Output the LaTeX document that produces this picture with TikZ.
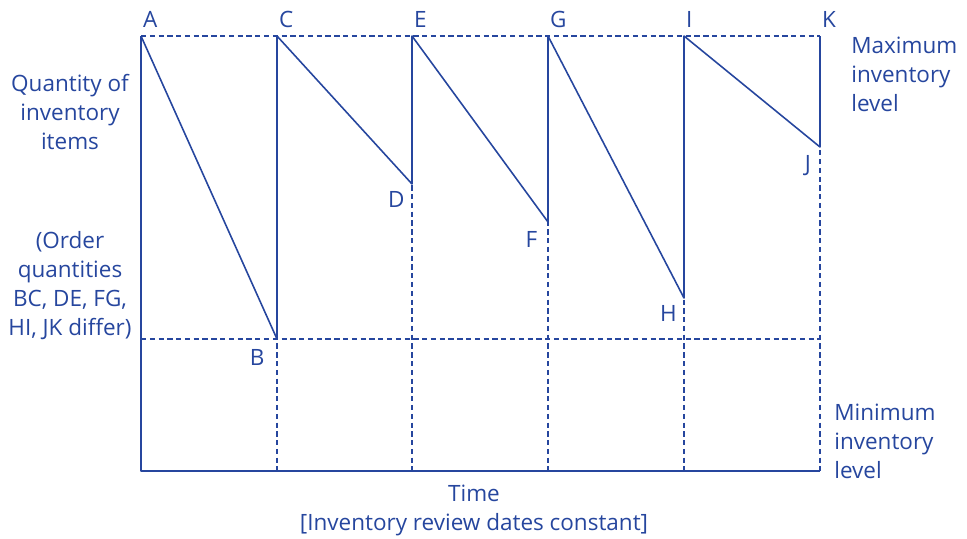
\documentclass[tikz,border=0pt]{standalone}
\usepackage{fontspec}
\setmainfont{Open Sans}
\usetikzlibrary{positioning}
\definecolor{inkblue}{RGB}{38,70,158}

\begin{document}
\begin{tikzpicture}[
  x=0.02cm, y=-0.02cm,
  stock/.style={inkblue, line width=0.9pt, line join=round},
  guide/.style={inkblue, dash pattern=on 3pt off 2pt, line width=0.8pt},
  lbl/.style={inkblue, font=\fontsize{12.8}{16.5}\selectfont, inner sep=0pt},
  side/.style={lbl, align=center},
]
  \useasboundingbox (0,0) rectangle (967,538);
  \def\ytop{36}
  \def\ymin{339}
  \def\ybot{471}
  % Review dates along the top (max level) and the bottom axis
  \coordinate (A) at (141,\ytop);
  \coordinate (O) at (141,\ybot);
  \coordinate (M0) at (141,\ymin);
  \foreach \n/\x in {C/277,E/412,G/548,I/684,K/820} {
    \coordinate (\n) at (\x,\ytop);
    \coordinate (b\n) at (\x,\ybot);
  }
  \coordinate (M1) at (820,\ymin);
  % Lowest points of each cycle
  \coordinate (B) at (277,\ymin);
  \coordinate (D) at (412,184);
  \coordinate (F) at (548,222);
  \coordinate (H) at (684,298);
  \coordinate (J) at (820,147);
  % Dashed guides
  \draw[guide] (A) -- (K);
  \draw[guide] (M0) -- (M1);
  \foreach \n in {C,E,G,I,K}
    \draw[guide] (\n) -- (b\n);
  % Axes
  \draw[stock] (A) -- (O) -- (bK);
  % Sawtooth of stock level
  \draw[stock] (A) -- (B) -- (C) -- (D) -- (E) -- (F) -- (G) -- (H) -- (I) -- (J) -- (K);
  % Point labels
  \foreach \n in {A,C,E,G,I,K}
    \node[lbl, anchor=base west] (lab\n) at ([xshift=1pt, yshift=5pt]\n) {\n};
  \node[lbl, below left=6pt and 7pt of B] (labB) {B};
  \node[lbl, below left=4pt and 4pt of D] (labD) {D};
  \node[lbl, below left=5pt and 6pt of F] (labF) {F};
  \node[lbl, below left=4pt and 4pt of H] (labH) {H};
  \node[lbl, below left=4.5pt and 5pt of J] (labJ) {J};
  % Side texts
  \node[side] (qty) at (70,112) {Quantity of\\inventory\\items};
  \node[side] (orders) at (70,286) {(Order\\quantities\\BC, DE, FG,\\HI, JK differ)};
  \node[lbl, align=left, anchor=west] (maxlvl) at (851,74) {Maximum\\inventory\\level};
  \node[lbl, align=left, anchor=west] (minlvl) at (834,441) {Minimum\\inventory\\level};
  \node[side] (time) at (474,510) {Time\\{[Inventory review dates constant]}};
\end{tikzpicture}
\end{document}
